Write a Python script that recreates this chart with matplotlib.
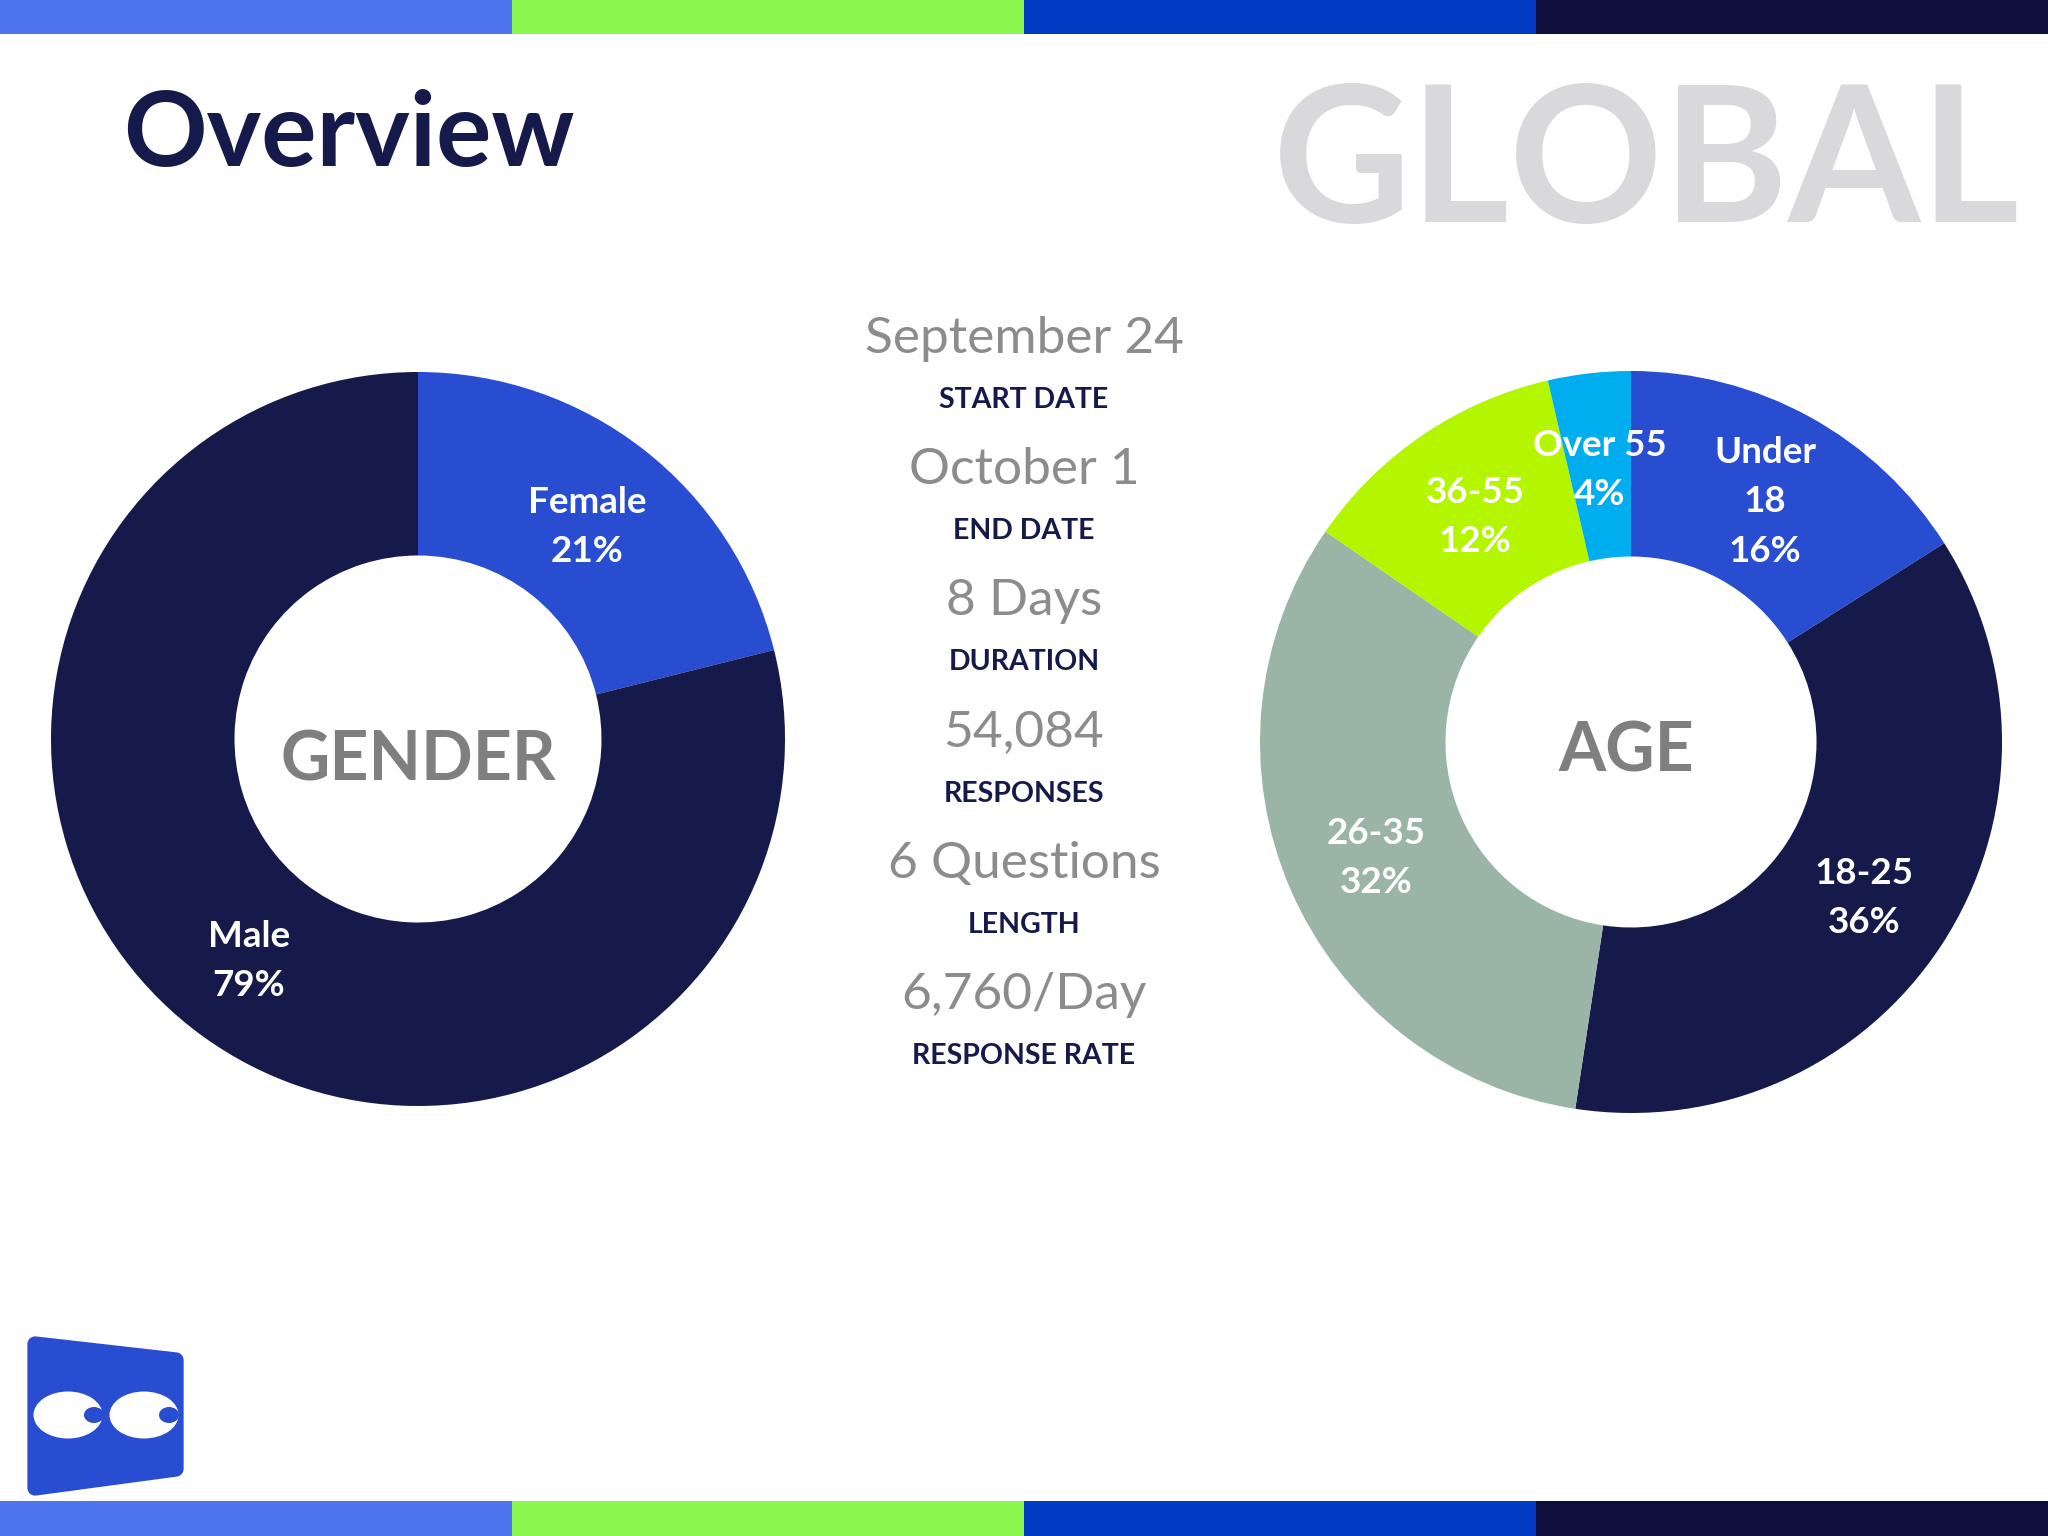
import matplotlib
matplotlib.use("Agg")
import matplotlib.pyplot as plt
from matplotlib.patches import Rectangle, Polygon, Ellipse

plt.rcParams['font.family'] = ['Lato', 'DejaVu Sans']

W, H = 2048, 1536

gender_labels = ["Female\n21%", "Male\n79%"]
gender_values = [21.1, 78.9]
gender_colors = ["#294dd1", "#161a4a"]

age_labels = ["Under\n18\n16%", "18-25\n36%", "26-35\n32%", "36-55\n12%", "Over 55\n4%"]
age_values = [16, 36.4, 32.2, 11.8, 3.6]
age_colors = ["#294dd1", "#161a4a", "#9ab5a6", "#b4f500", "#00aeef"]

stat_values = ["September 24", "October 1", "8 Days", "54,084", "6 Questions", "6,760/Day"]
stat_names = ["START DATE", "END DATE", "DURATION", "RESPONSES", "LENGTH", "RESPONSE RATE"]

bar_colors = ["#4f75ee", "#8af74e", "#003bc4", "#0e103e"]

fig = plt.figure(figsize=(W / 100, H / 100), dpi=100)
bg = fig.add_axes([0, 0, 1, 1], zorder=5)
bg.set_xlim(0, W)
bg.set_ylim(H, 0)
bg.axis("off")

# colour strips top and bottom
for i, c in enumerate(bar_colors):
    bg.add_patch(Rectangle((i * 512, 0), 512, 34, color=c, lw=0))
    bg.add_patch(Rectangle((i * 512, 1501), 512, 35, color=c, lw=0))

bg.text(123, 136, "Overview", fontsize=74.5, fontweight="bold", color="#161a4a", va="center", ha="left")
bg.text(2020, 168, "GLOBAL", fontsize=137, fontweight="bold", color="#d9d9dc", va="center", ha="right")


def donut(cx, cy, r, values, colors, labels, label_pos, center, center_x, center_y):
    ax = fig.add_axes([(cx - r) / W, 1 - (cy + r) / H, 2 * r / W, 2 * r / H])
    ax.pie(values, colors=colors, startangle=90, counterclock=False, radius=1,
           wedgeprops={"width": 0.5, "linewidth": 0})
    ax.set_xlim(-1, 1)
    ax.set_ylim(-1, 1)
    ax.axis("off")
    for lab, (x, y) in zip(labels, label_pos):
        bg.text(x, y, lab, color="white", fontsize=26.5, fontweight="bold", ha="center", va="center",
                linespacing=1.62)
    bg.text(center_x, center_y, center, color="#7f7f7f", fontsize=49, fontweight="bold",
            ha="center", va="center")


donut(418, 739, 367, gender_values, gender_colors, gender_labels,
      [(587, 527), (249, 961)], "GENDER", 418, 761)
donut(1631, 742, 371, age_values, age_colors, age_labels,
      [(1765, 502), (1864, 898), (1376, 858), (1475, 517), (1600, 470)], "AGE", 1626, 752)

# middle stats column
for i, (v, n) in enumerate(zip(stat_values, stat_names)):
    y = 339 + i * 131.2
    bg.text(1024, y, v, fontsize=37, color="#8c8c8c", ha="center", va="center")
    bg.text(1024, y + 61, n, fontsize=20.5, fontweight="bold", color="#161a4a", ha="center", va="center")

# logo
bg.add_patch(Polygon([(35, 1344), (176, 1360), (176, 1469), (35, 1488)], closed=True, fc="#294dd1", ec="#294dd1",
                     lw=11, joinstyle="round"))
for ex, pupil in [(68, 94), (144, 169)]:
    bg.add_patch(Ellipse((ex, 1415), 69, 47, color="white", lw=0))
    bg.add_patch(Ellipse((pupil, 1415), 20, 16, color="#294dd1", lw=0))

fig.savefig("out.png", dpi=100)
